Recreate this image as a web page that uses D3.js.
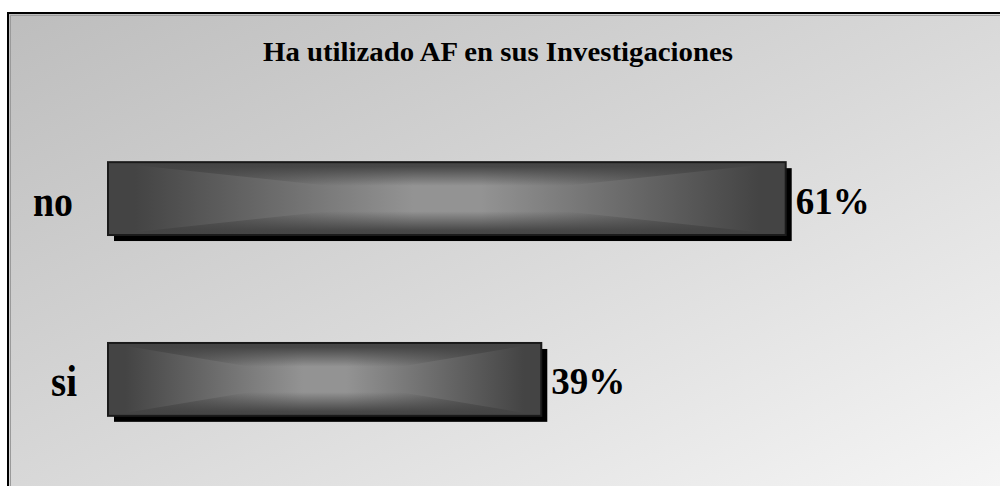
<!DOCTYPE html>
<html>
<head>
<meta charset="utf-8">
<style>
  body { margin: 0; background: #fff; }
  text { font-family: "Liberation Serif", "Times New Roman", serif; font-weight: bold; fill: #000; }
</style>
</head>
<body>
<svg width="1000" height="486"></svg>
<script src="https://cdnjs.cloudflare.com/ajax/libs/d3/7.8.5/d3.min.js"></script>
<script>
// chart data
var categories = ["no", "si"];
var percents = [61, 39];
var percentLabels = ["61%", "39%"];
var title = "Ha utilizado AF en sus Investigaciones";

var svg = d3.select("svg"),
    width = +svg.attr("width"),
    height = +svg.attr("height");

var defs = svg.append("defs");

// chart area background, light grey to almost white
var bg = defs.append("linearGradient")
    .attr("id", "bg")
    .attr("x1", 0).attr("y1", 0).attr("x2", 1).attr("y2", 1);
bg.append("stop").attr("offset", 0).attr("stop-color", "#bdbdbd");
bg.append("stop").attr("offset", 0.5).attr("stop-color", "#d9d9d9");
bg.append("stop").attr("offset", 1).attr("stop-color", "#f7f7f7");

svg.append("rect")
    .attr("x", 8).attr("y", 13)
    .attr("width", width + 10).attr("height", height + 10)
    .attr("fill", "url(#bg)")
    .attr("stroke", "#000")
    .attr("stroke-width", 2);
svg.append("path")
    .attr("d", "M10,15.5H" + (width + 5) + "M10.5,15V" + (height + 5))
    .attr("stroke", "#9a9a9a")
    .attr("fill", "none");

// bar shading: dark at the ends, light toward the middle
var dark = "#444", light = "#939393";
var gh = defs.append("linearGradient").attr("id", "gh")
    .attr("x1", 0).attr("y1", 0).attr("x2", 1).attr("y2", 0);
gh.append("stop").attr("offset", 0).attr("stop-color", dark);
gh.append("stop").attr("offset", 0.04).attr("stop-color", dark);
gh.append("stop").attr("offset", 0.45).attr("stop-color", light);
gh.append("stop").attr("offset", 0.55).attr("stop-color", light);
gh.append("stop").attr("offset", 0.96).attr("stop-color", dark);
gh.append("stop").attr("offset", 1).attr("stop-color", dark);

// top and bottom wedges darken toward the long edges
function fade(id, y1, y2) {
  var g = defs.append("linearGradient").attr("id", id)
      .attr("x1", 0).attr("y1", y1).attr("x2", 0).attr("y2", y2);
  g.append("stop").attr("offset", 0).attr("stop-color", dark).attr("stop-opacity", 1);
  g.append("stop").attr("offset", 0.12).attr("stop-color", dark).attr("stop-opacity", 0.95);
  g.append("stop").attr("offset", 0.65).attr("stop-color", dark).attr("stop-opacity", 0);
  g.append("stop").attr("offset", 1).attr("stop-color", dark).attr("stop-opacity", 0);
}
fade("gt", 0, 1);
fade("gb", 1, 0);

var x = d3.scaleLinear()
    .domain([0, 100])
    .range([108, 1219]);

var y = d3.scaleBand()
    .domain(categories)
    .range([126, 452])
    .paddingInner(0.597)
    .paddingOuter(0.2);

svg.append("text")
    .attr("x", 498)
    .attr("y", 61)
    .attr("text-anchor", "middle")
    .attr("font-size", 28)
    .attr("textLength", 470)
    .attr("lengthAdjust", "spacingAndGlyphs")
    .text(title);

var bar = svg.selectAll(".bar")
    .data(categories)
  .enter().append("g")
    .attr("class", "bar");

// drop shadow
bar.append("rect")
    .attr("x", x(0) + 6)
    .attr("y", function(d) { return y(d) + 6; })
    .attr("width", function(d, i) { return x(percents[i]) - x(0); })
    .attr("height", y.bandwidth())
    .attr("fill", "#000");

bar.each(function(d, i) {
  var g = d3.select(this),
      x0 = x(0), x1 = x(percents[i]),
      y0 = y(d), y1 = y(d) + y.bandwidth(),
      cx = (x0 + x1) / 2, cy = (y0 + y1) / 2;
  g.append("rect")
      .attr("x", x0).attr("y", y0)
      .attr("width", x1 - x0).attr("height", y1 - y0)
      .attr("fill", "url(#gh)");
  g.append("path")
      .attr("d", "M" + [[x0, y0], [x1, y0], [cx, cy]].join("L") + "Z")
      .attr("fill", "url(#gt)");
  g.append("path")
      .attr("d", "M" + [[x0, y1], [x1, y1], [cx, cy]].join("L") + "Z")
      .attr("fill", "url(#gb)");
  g.append("rect")
      .attr("x", x0).attr("y", y0)
      .attr("width", x1 - x0).attr("height", y1 - y0)
      .attr("fill", "none")
      .attr("stroke", "#1a1a1a")
      .attr("stroke-width", 2);
});

// category labels
bar.append("text")
    .attr("x", function(d) { return d == "no" ? 33 : 51; })
    .attr("y", function(d) { return y(d) + y.bandwidth() / 2 + 17; })
    .attr("font-size", 44)
    .attr("textLength", function(d) { return d == "no" ? 40 : 26; })
    .attr("lengthAdjust", "spacingAndGlyphs")
    .text(function(d) { return d; });

// value labels
bar.append("text")
    .attr("x", function(d, i) { return x(percents[i]) + 10; })
    .attr("y", function(d) { return y(d) + y.bandwidth() / 2 + 15; })
    .attr("font-size", 37)
    .text(function(d, i) { return percentLabels[i]; });
</script>
</body>
</html>
